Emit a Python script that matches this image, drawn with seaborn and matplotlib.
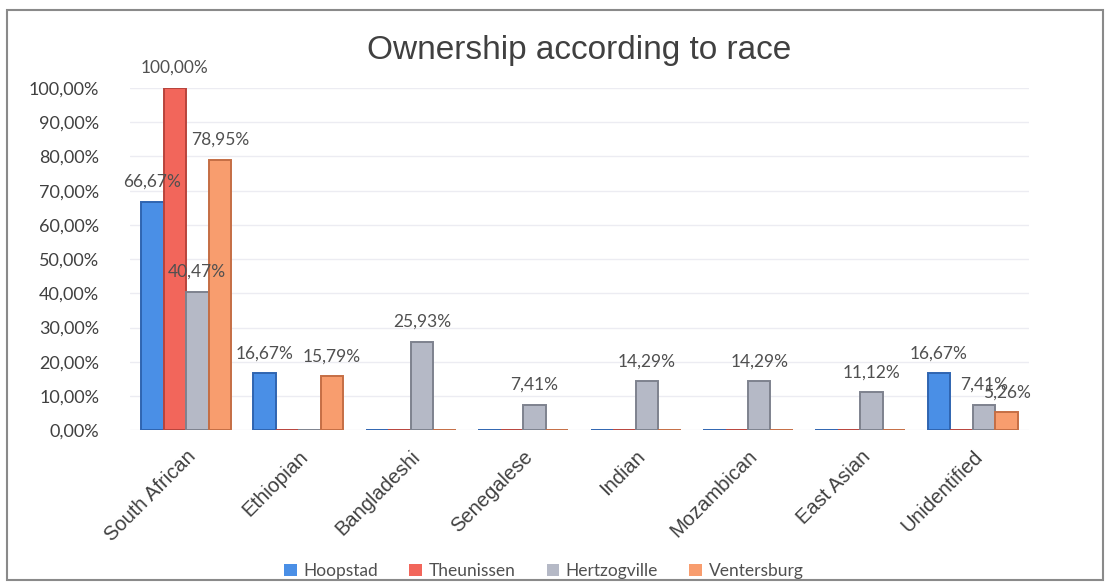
import numpy as np
import pandas as pd
import matplotlib
matplotlib.use("Agg")
import matplotlib.pyplot as plt
import matplotlib.transforms as mtransforms
import seaborn as sns
from matplotlib.patches import Rectangle

# data
races = ["South African", "Ethiopian", "Bangladeshi", "Senegalese",
         "Indian", "Mozambican", "East Asian", "Unidentified"]
towns = ["Hoopstad", "Theunissen", "Hertzogville", "Ventersburg"]
hoopstad = [66.67, 16.67, 0, 0, 0, 0, 0, 16.67]
theunissen = [100.00, 0, 0, 0, 0, 0, 0, 0]
hertzogville = [40.47, 0, 25.93, 7.41, 14.29, 14.29, 11.12, 7.41]
ventersburg = [78.95, 15.79, 0, 0, 0, 0, 0, 5.26]

colors = ["#4A8FE6", "#F2665B", "#B5B9C6", "#F89D6E"]
edges = ["#2F64B0", "#B8443C", "#7E828E", "#C56E44"]

df = pd.DataFrame({
    "race": races * 4,
    "town": sum([[t] * len(races) for t in towns], []),
    "value": hoopstad + theunissen + hertzogville + ventersburg,
})

sns.set_theme(style="white")
plt.rcParams["font.family"] = ["Lato", "DejaVu Sans"]

fig = plt.figure(figsize=(11.1, 5.83), dpi=100)
ax = fig.add_axes([0.117, 0.262, 0.81, 0.587])

sns.barplot(data=df, x="race", y="value", hue="town", hue_order=towns,
            palette=colors, saturation=1, width=0.8, ax=ax, legend=True)

# darker edges so zero bars show as flat slabs
for cont, ec in zip(ax.containers, edges):
    for bar in cont:
        bar.set_edgecolor(ec)
        bar.set_linewidth(1.4)

# data labels
for cont in ax.containers:
    for bar in cont:
        h = bar.get_height()
        if h > 0:
            ax.text(bar.get_x() + bar.get_width() / 2, h + 3.5,
                    f"{h:.2f}%".replace(".", ","), ha="center", va="bottom",
                    fontsize=12.5, color="#505050", clip_on=False)

ax.set_ylim(0, 100)
ax.set_yticks(np.arange(0, 101, 10))
ax.set_yticklabels([f"{v:.2f}%".replace(".", ",") for v in np.arange(0, 101, 10)],
                   fontsize=13, color="#404040")
ax.set_xlim(-0.5, len(races) - 0.5)
ax.set_xticks(range(len(races)))
ax.set_xticklabels(races, rotation=45, ha="right", rotation_mode="anchor",
                   fontsize=14.5, color="#404040", family="Liberation Sans")
shift = mtransforms.ScaledTranslation(-12 / 100, 0, fig.dpi_scale_trans)
for lbl in ax.get_xticklabels():
    lbl.set_transform(lbl.get_transform() + shift)
ax.tick_params(axis="x", pad=12, length=0)
ax.tick_params(axis="y", length=0, pad=22)
ax.set_xlabel("")
ax.set_ylabel("")
ax.grid(axis="y", color="#ECECF2", linewidth=1)
ax.set_axisbelow(True)
sns.despine(ax=ax, left=True, bottom=True)

ax.set_title("Ownership according to race", fontsize=24, color="#404040",
             family="Liberation Sans", y=1.06)

handles, labels = ax.get_legend_handles_labels()
ax.get_legend().remove()
leg = fig.legend(handles, labels, loc="lower center", bbox_to_anchor=(0.49, -0.02),
                 ncol=4, frameon=False, fontsize=12.5, handlelength=0.7,
                 handleheight=0.7, columnspacing=1.8, handletextpad=0.4)
for t in leg.get_texts():
    t.set_color("#505050")
for h in leg.legend_handles:
    h.set_edgecolor("none")

fig.patches.append(Rectangle((0.006, 0.005), 0.988, 0.978, transform=fig.transFigure,
                             fill=False, edgecolor="#8A8A8A", linewidth=1.5))

fig.savefig("out.png", dpi=100)
